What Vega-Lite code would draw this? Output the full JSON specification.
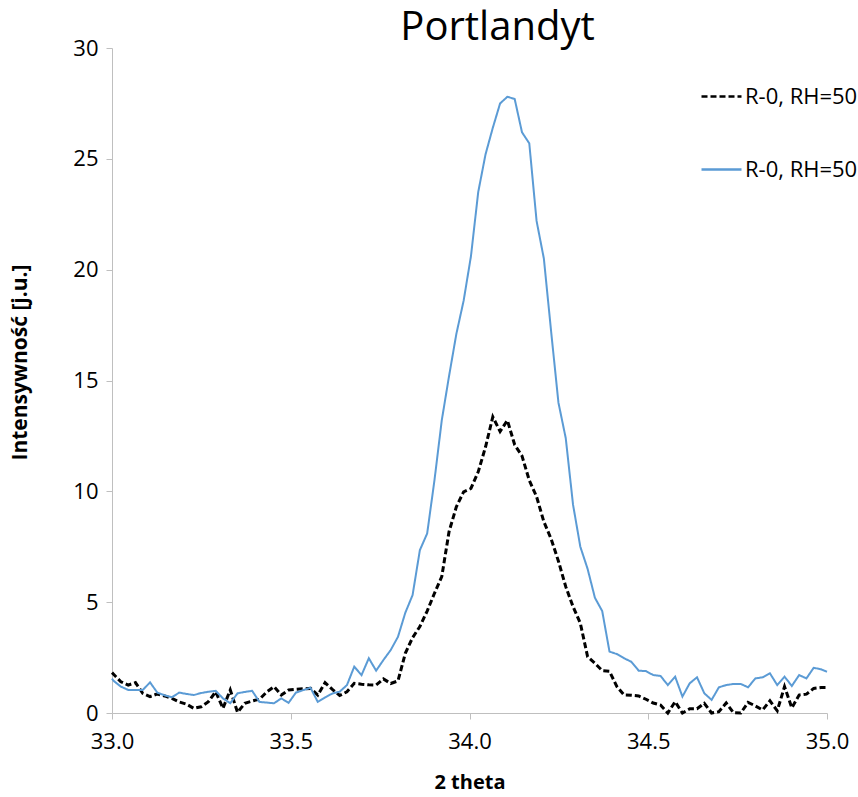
{
  "$schema": "https://vega.github.io/schema/vega-lite/v6.json",
  "width": 715,
  "height": 665,
  "autosize": {"type": "none"},
  "padding": {"left": 112, "top": 48, "right": 31, "bottom": 84},
  "config": {"view": {"stroke": null}, "font": "Open Sans"},
  "title": {"text": "Portlandyt", "fontSize": 40, "fontWeight": "normal", "anchor": "middle", "dx": 28, "dy": 51, "offset": 8, "baseline": "alphabetic", "color": "#000000", "font": "Open Sans"},
  "datasets": {
    "black": [
      {"t":33.0,"i":1.82},{"t":33.0044,"i":1.75},{"t":33.0248,"i":1.41},{"t":33.0452,"i":1.26},{"t":33.0656,"i":1.37},{"t":33.086,"i":0.89},{"t":33.1064,"i":0.74},{"t":33.1268,"i":0.86},{"t":33.1472,"i":0.77},{"t":33.1676,"i":0.66},
      {"t":33.188,"i":0.5},{"t":33.2084,"i":0.4},{"t":33.2288,"i":0.21},{"t":33.2492,"i":0.28},{"t":33.2696,"i":0.51},{"t":33.29,"i":0.96},{"t":33.3104,"i":0.21},{"t":33.3308,"i":1.04},{"t":33.3512,"i":0.03},{"t":33.3716,"i":0.44},
      {"t":33.392,"i":0.54},{"t":33.4124,"i":0.62},{"t":33.4328,"i":0.95},{"t":33.4532,"i":1.19},{"t":33.4736,"i":0.81},{"t":33.494,"i":1.04},{"t":33.5144,"i":1.07},{"t":33.5348,"i":1.09},{"t":33.5552,"i":1.11},{"t":33.5756,"i":0.81},
      {"t":33.596,"i":1.37},{"t":33.6164,"i":1.07},{"t":33.6368,"i":0.79},{"t":33.6572,"i":0.96},{"t":33.6776,"i":1.34},{"t":33.698,"i":1.3},{"t":33.7184,"i":1.27},{"t":33.7388,"i":1.26},{"t":33.7592,"i":1.54},{"t":33.7796,"i":1.33},
      {"t":33.8,"i":1.45},{"t":33.8204,"i":2.69},{"t":33.8408,"i":3.4},{"t":33.8612,"i":3.9},{"t":33.8816,"i":4.6},{"t":33.902,"i":5.4},{"t":33.9224,"i":6.15},{"t":33.9428,"i":8.18},{"t":33.9632,"i":9.3},{"t":33.9836,"i":9.98},
      {"t":34.004,"i":10.13},{"t":34.0244,"i":10.88},{"t":34.0448,"i":12.0},{"t":34.0652,"i":13.36},{"t":34.0856,"i":12.7},{"t":34.106,"i":13.2},{"t":34.1264,"i":12.1},{"t":34.1468,"i":11.6},{"t":34.1672,"i":10.5},{"t":34.1876,"i":9.76},
      {"t":34.208,"i":8.63},{"t":34.2284,"i":7.85},{"t":34.2488,"i":6.85},{"t":34.2692,"i":5.7},{"t":34.2896,"i":4.8},{"t":34.31,"i":4.05},{"t":34.3304,"i":2.54},{"t":34.3508,"i":2.24},{"t":34.3712,"i":1.91},{"t":34.3916,"i":1.88},
      {"t":34.412,"i":1.2},{"t":34.4324,"i":0.81},{"t":34.4528,"i":0.8},{"t":34.4732,"i":0.77},{"t":34.4936,"i":0.62},{"t":34.514,"i":0.45},{"t":34.5344,"i":0.36},{"t":34.5548,"i":0.0},{"t":34.5752,"i":0.51},{"t":34.5956,"i":0.0},
      {"t":34.616,"i":0.19},{"t":34.6364,"i":0.19},{"t":34.6568,"i":0.44},{"t":34.6772,"i":0.0},{"t":34.6976,"i":0.06},{"t":34.718,"i":0.45},{"t":34.7384,"i":0.01},{"t":34.7588,"i":0.0},{"t":34.7792,"i":0.48},{"t":34.7996,"i":0.32},
      {"t":34.82,"i":0.14},{"t":34.8404,"i":0.55},{"t":34.8608,"i":0.1},{"t":34.8812,"i":1.19},{"t":34.9016,"i":0.23},{"t":34.922,"i":0.81},{"t":34.9424,"i":0.85},{"t":34.9628,"i":1.11},{"t":34.9832,"i":1.15},{"t":35.0,"i":1.15}
    ],
    "blue": [
      {"t":33.0,"i":1.55},{"t":33.0044,"i":1.45},{"t":33.0248,"i":1.19},{"t":33.0452,"i":1.04},{"t":33.0656,"i":1.04},{"t":33.086,"i":1.04},{"t":33.1064,"i":1.38},{"t":33.1268,"i":0.92},{"t":33.1472,"i":0.8},{"t":33.1676,"i":0.71},
      {"t":33.188,"i":0.92},{"t":33.2084,"i":0.86},{"t":33.2288,"i":0.81},{"t":33.2492,"i":0.9},{"t":33.2696,"i":0.96},{"t":33.29,"i":1.0},{"t":33.3104,"i":0.66},{"t":33.3308,"i":0.44},{"t":33.3512,"i":0.89},{"t":33.3716,"i":0.95},
      {"t":33.392,"i":1.0},{"t":33.4124,"i":0.5},{"t":33.4328,"i":0.47},{"t":33.4532,"i":0.44},{"t":33.4736,"i":0.66},{"t":33.494,"i":0.46},{"t":33.5144,"i":0.92},{"t":33.5348,"i":1.03},{"t":33.5552,"i":1.14},{"t":33.5756,"i":0.5},
      {"t":33.596,"i":0.7},{"t":33.6164,"i":0.88},{"t":33.6368,"i":0.96},{"t":33.6572,"i":1.26},{"t":33.6776,"i":2.09},{"t":33.698,"i":1.71},{"t":33.7184,"i":2.47},{"t":33.7388,"i":1.91},{"t":33.7592,"i":2.39},{"t":33.7796,"i":2.84},
      {"t":33.8,"i":3.44},{"t":33.8204,"i":4.52},{"t":33.8408,"i":5.32},{"t":33.8612,"i":7.35},{"t":33.8816,"i":8.1},{"t":33.902,"i":10.5},{"t":33.9224,"i":13.2},{"t":33.9428,"i":15.2},{"t":33.9632,"i":17.1},{"t":33.9836,"i":18.6},
      {"t":34.004,"i":20.6},{"t":34.0244,"i":23.5},{"t":34.0448,"i":25.2},{"t":34.0652,"i":26.4},{"t":34.0856,"i":27.5},{"t":34.106,"i":27.8},{"t":34.1264,"i":27.7},{"t":34.1468,"i":26.2},{"t":34.1672,"i":25.7},{"t":34.1876,"i":22.2},
      {"t":34.208,"i":20.5},{"t":34.2284,"i":17.2},{"t":34.2488,"i":14.0},{"t":34.2692,"i":12.4},{"t":34.2896,"i":9.4},{"t":34.31,"i":7.5},{"t":34.3304,"i":6.5},{"t":34.3508,"i":5.2},{"t":34.3712,"i":4.6},{"t":34.3916,"i":2.77},
      {"t":34.412,"i":2.66},{"t":34.4324,"i":2.47},{"t":34.4528,"i":2.31},{"t":34.4732,"i":1.91},{"t":34.4936,"i":1.89},{"t":34.514,"i":1.71},{"t":34.5344,"i":1.67},{"t":34.5548,"i":1.26},{"t":34.5752,"i":1.64},{"t":34.5956,"i":0.74},
      {"t":34.616,"i":1.34},{"t":34.6364,"i":1.61},{"t":34.6568,"i":0.89},{"t":34.6772,"i":0.59},{"t":34.6976,"i":1.16},{"t":34.718,"i":1.26},{"t":34.7384,"i":1.31},{"t":34.7588,"i":1.31},{"t":34.7792,"i":1.16},{"t":34.7996,"i":1.56},
      {"t":34.82,"i":1.61},{"t":34.8404,"i":1.79},{"t":34.8608,"i":1.26},{"t":34.8812,"i":1.64},{"t":34.9016,"i":1.22},{"t":34.922,"i":1.71},{"t":34.9424,"i":1.56},{"t":34.9628,"i":2.04},{"t":34.9832,"i":1.97},{"t":35.0,"i":1.86}
    ]
  },
  "layer": [
    {
      "data": {"name": "black"},
      "transform": [{"calculate": "'A'", "as": "s"}],
      "mark": {"type": "line", "strokeWidth": 3, "strokeJoin": "miter"},
      "encoding": {
        "x": {"field": "t", "type": "quantitative"},
        "y": {"field": "i", "type": "quantitative"},
        "color": {"field": "s", "type": "nominal"},
        "strokeDash": {"field": "s", "type": "nominal"}
      }
    },
    {
      "data": {"name": "blue"},
      "transform": [{"calculate": "'B'", "as": "s"}],
      "mark": {"type": "line", "strokeWidth": 2},
      "encoding": {
        "x": {"field": "t", "type": "quantitative"},
        "y": {"field": "i", "type": "quantitative"},
        "color": {"field": "s", "type": "nominal"},
        "strokeDash": {"field": "s", "type": "nominal"}
      }
    }
  ],
  "encoding": {
    "x": {
      "field": "t", "type": "quantitative",
      "scale": {"domain": [33, 35], "nice": false, "zero": false},
      "axis": {"title": "2 theta", "values": [33, 33.5, 34, 34.5, 35], "format": ".1f", "grid": false,
        "domainColor": "#bfbfbf", "tickColor": "#bfbfbf", "tickSize": 6, "labelFontSize": 22, "labelColor": "#000000", "labelPadding": 12, "labelFlush": false,
        "titleFontSize": 20, "titleFontWeight": "bold", "titleColor": "#000000", "titleY": 59}
    },
    "y": {
      "field": "i", "type": "quantitative",
      "scale": {"domain": [0, 30], "nice": false},
      "axis": {"title": "Intensywność [j.u.]", "values": [0, 5, 10, 15, 20, 25, 30], "grid": false,
        "domainColor": "#bfbfbf", "tickColor": "#bfbfbf", "tickSize": 6, "labelFontSize": 22, "labelColor": "#000000", "labelPadding": 8,
        "titleFontSize": 21, "titleFontWeight": "bold", "titleColor": "#000000", "titleX": -82, "titleY": 314}
    },
    "color": {
      "field": "s", "type": "nominal",
      "scale": {"domain": ["A", "B"], "range": ["#000000", "#5B9BD5"]},
      "legend": {"orient": "none", "legendX": 588, "legendY": 27, "title": null, "labelExpr": "'R-0, RH=50'", "labelFontSize": 22, "labelColor": "#000000", "symbolType": "stroke", "symbolSize": 1600, "symbolStrokeWidth": 2.5, "rowPadding": 40, "labelOffset": 2, "labelLimit": 300}
    },
    "strokeDash": {
      "field": "s", "type": "nominal",
      "scale": {"domain": ["A", "B"], "range": [[6, 3], [1, 0]]},
      "legend": {"orient": "none", "legendX": 588, "legendY": 27, "title": null, "labelExpr": "'R-0, RH=50'", "labelFontSize": 22, "labelColor": "#000000", "symbolType": "stroke", "symbolSize": 1600, "symbolStrokeWidth": 2.5, "rowPadding": 40, "labelOffset": 2, "labelLimit": 300}
    }
  }
}
